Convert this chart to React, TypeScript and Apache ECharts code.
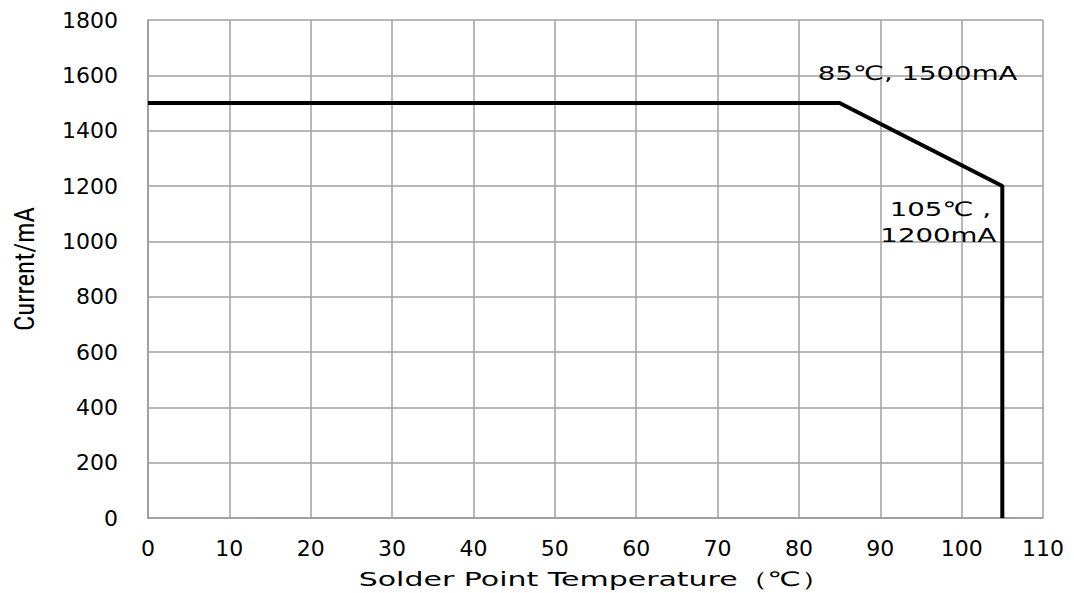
import React, { useEffect, useRef } from "react";
import * as echarts from "echarts";

const temps = [0, 85, 105, 105];
const currents = [1500, 1500, 1200, 0];
const xTicks = [0, 10, 20, 30, 40, 50, 60, 70, 80, 90, 100, 110];
const yTicks = [0, 200, 400, 600, 800, 1000, 1200, 1400, 1600, 1800];
const xName = "Solder Point Temperature（℃）";
const yName = "Current/mA";
const notes = [
  { x: 85, y: 1500, lines: ["85℃, 1500mA"] },
  { x: 105, y: 1200, lines: ["105℃ ,", "1200mA"] },
];

export default function App() {
  const ref = useRef<HTMLDivElement>(null);
  useEffect(() => {
    const chart = echarts.init(ref.current!, null, { renderer: "svg" });
    const tickFont = { fontFamily: "DejaVu Sans", fontSize: 22, color: "#000" };
    chart.setOption({
      animation: false,
      backgroundColor: "#fff",
      grid: { left: 148, right: 31, top: 20, bottom: 75, outerBoundsMode: "none", containLabel: false },
      xAxis: {
        type: "value",
        min: xTicks[0],
        max: xTicks[xTicks.length - 1],
        interval: 10,
        axisLine: { lineStyle: { color: "#999", width: 1.5 } },
        axisTick: { show: false },
        axisLabel: { ...tickFont, margin: 19 },
        splitLine: { lineStyle: { color: "#a0a0a0", width: 1.5 } },
      },
      yAxis: {
        type: "value",
        min: yTicks[0],
        max: yTicks[yTicks.length - 1],
        interval: 200,
        name: yName,
        nameLocation: "middle",
        nameGap: 110,
        nameTextStyle: { fontFamily: "Liberation Sans Narrow, Roboto Condensed, Liberation Sans", fontSize: 27, color: "#000" },
        axisLine: { show: true, lineStyle: { color: "#999", width: 1.5 } },
        axisTick: { show: false },
        axisLabel: { ...tickFont, margin: 30, formatter: (v: number) => String(v) },
        splitLine: { lineStyle: { color: "#a0a0a0", width: 1.5 } },
      },
      series: [
        {
          type: "line",
          data: temps.map((t, i) => [t, currents[i]]),
          symbol: "none",
          lineStyle: { color: "#000", width: 4 },
          z: 5,
        },
      ],
    });

    const p1 = chart.convertToPixel({ gridIndex: 0 }, [notes[0].x, notes[0].y]) as number[];
    const p2 = chart.convertToPixel({ gridIndex: 0 }, [notes[1].x, notes[1].y]) as number[];
    const xMid = chart.convertToPixel({ gridIndex: 0 }, [(xTicks[0] + xTicks[xTicks.length - 1]) / 2, 0]) as number[];
    const txt = (x: number, y: number, text: string, sx: number, size = 20) => ({
      type: "text",
      x,
      y,
      scaleX: sx,
      style: { text, fontFamily: "DejaVu Sans", fontSize: size, fill: "#000", align: "center", verticalAlign: "middle" },
      z: 10,
    });
    chart.setOption({
      graphic: [
        txt(p1[0] + 78, p1[1] - 30, notes[0].lines[0], 1.38),
        txt(p2[0] - 62, p2[1] + 23, notes[1].lines[0], 1.38),
        txt(p2[0] - 64, p2[1] + 49, notes[1].lines[1], 1.38),
        txt(xMid[0] - 1, xMid[1] + 61, xName, 1.5, 20),
      ],
    });
    return () => chart.dispose();
  }, []);
  return <div ref={ref} style={{ width: 1074, height: 593, position: "absolute", left: 0, top: 0 }} />;
}
